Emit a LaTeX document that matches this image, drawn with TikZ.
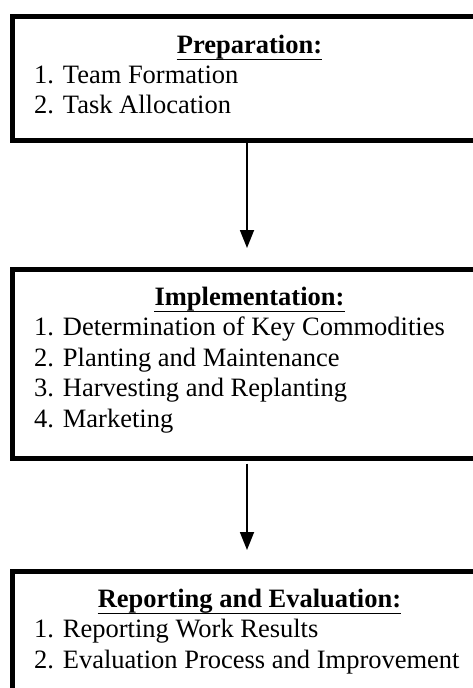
\documentclass[tikz,border=0pt]{standalone}
\usepackage{fontspec}
\setmainfont{Liberation Serif}
\usetikzlibrary{arrows.meta}
\begin{document}
\begin{tikzpicture}[x=1pt,y=-1pt,
  box/.style={draw,line width=5pt,inner sep=0pt,minimum width=473.5pt},
  ttl/.style={anchor=base,inner sep=0pt,font=\fontsize{26.5}{30}\selectfont\bfseries},
  item/.style={anchor=base west,inner sep=0pt,font=\fontsize{26.5}{30}\selectfont},
  uline/.style={line width=1.6pt},
  arr/.style={line width=1.8pt,-{Triangle[width=14pt,length=18pt]}}]
\useasboundingbox (0,0) rectangle (473,688);
\clip (0,0) rectangle (473,688);
% boxes
\node[box,minimum height=124pt] (b1) at (249.25,78.5) {};
\node[box,minimum height=189pt] (b2) at (249.25,363.5) {};
\node[box,minimum height=149pt] (b3) at (249.25,645.5) {};
% box 1
\node[ttl] (t1) at (249.5,53) {Preparation:};
\draw[uline] ([yshift=-6.5pt]t1.base west) -- ([yshift=-6.5pt]t1.base east);
\node[item] (p1) at (34,83) {1. Team Formation};
\node[item] (p2) at (34,113) {2. Task Allocation};
% box 2
\node[ttl] (t2) at (249.5,305) {Implementation:};
\draw[uline] ([yshift=-6.5pt]t2.base west) -- ([yshift=-6.5pt]t2.base east);
\node[item] (i1) at (34,335) {1. Determination of Key Commodities};
\node[item] (i2) at (34,366) {2. Planting and Maintenance};
\node[item] (i3) at (34,396.5) {3. Harvesting and Replanting};
\node[item] (i4) at (34,427) {4. Marketing};
% box 3
\node[ttl] (t3) at (249.5,607) {Reporting and Evaluation:};
\draw[uline] ([yshift=-6.5pt]t3.base west) -- ([yshift=-6.5pt]t3.base east);
\node[item] (r1) at (34,637) {1. Reporting Work Results};
\node[item] (r2) at (34,668) {2. Evaluation Process and Improvement};
% arrows
\draw[arr,shorten >=18.5pt] ([xshift=-2.25pt]b1.south) -- ([xshift=-2.25pt]b2.north);
\draw[arr,shorten <=3pt,shorten >=18.5pt] ([xshift=-2.25pt]b2.south) -- ([xshift=-2.25pt]b3.north);
\end{tikzpicture}
\end{document}
